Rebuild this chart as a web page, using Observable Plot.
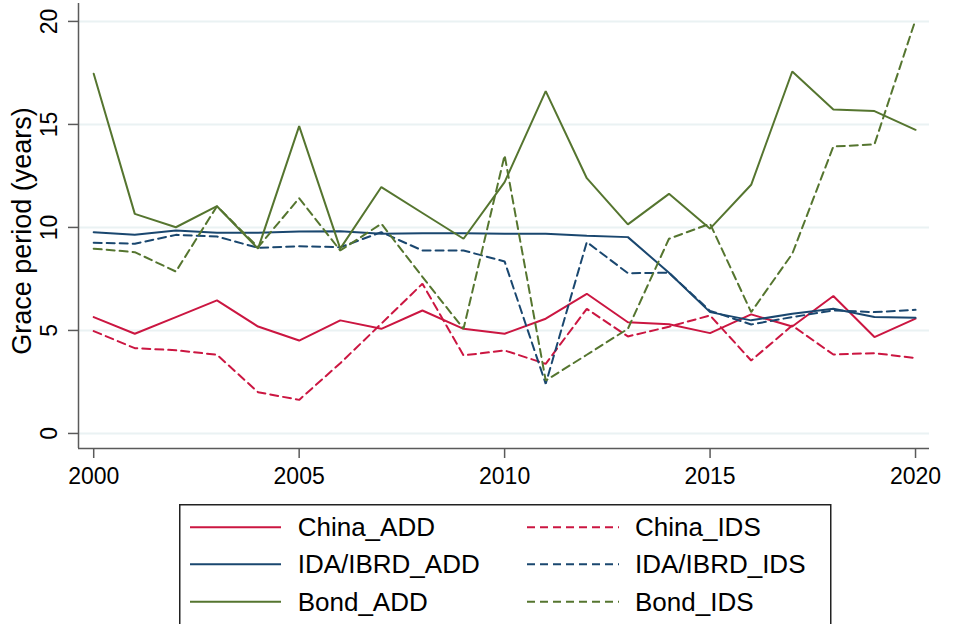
<!DOCTYPE html>
<html><head><meta charset="utf-8">
<script src="https://cdn.jsdelivr.net/npm/d3@7"></script>
<script src="https://cdn.jsdelivr.net/npm/@observablehq/plot@0.6"></script>
<style>
body{margin:0;background:#fff;font-family:"Liberation Sans",Arial,sans-serif;}
#wrap{position:relative;width:957px;height:624px;overflow:hidden;background:#fff;}
#wrap svg{display:block;}
#legend{position:absolute;left:179px;top:504px;}
</style></head><body><div id="wrap"></div>
<script>
const years = [2000,2001,2002,2003,2004,2005,2006,2007,2008,2009,2010,2011,2012,2013,2014,2015,2016,2017,2018,2019,2020];
const chinaADD = [5.65,4.84,5.65,6.46,5.19,4.51,5.49,5.08,5.97,5.08,4.84,5.57,6.78,5.40,5.30,4.87,5.78,5.19,6.67,4.68,5.57];
const chinaIDS = [4.97,4.14,4.04,3.82,2.00,1.63,3.41,5.33,7.27,3.79,4.03,3.38,6.05,4.71,5.18,5.73,3.54,5.24,3.83,3.90,3.66];
const idaADD   = [9.77,9.64,9.85,9.74,9.74,9.80,9.82,9.69,9.72,9.72,9.69,9.69,9.60,9.53,7.80,5.89,5.49,5.81,6.05,5.65,5.62];
const idaIDS   = [9.26,9.21,9.64,9.56,9.01,9.09,9.04,9.77,8.88,8.88,8.35,2.41,9.29,7.78,7.80,5.95,5.29,5.65,5.97,5.89,6.00];
const bondADD  = [17.46,10.66,10.01,11.03,8.97,14.92,8.97,11.96,10.70,9.45,12.20,16.62,12.39,10.15,11.63,9.94,12.07,17.57,15.73,15.65,14.74];
const bondIDS  = [8.97,8.80,7.86,11.03,9.04,11.42,8.88,10.18,7.60,5.08,13.50,2.57,3.82,5.08,9.45,10.18,5.89,8.72,13.93,14.03,20.08];

const seriesNames = ["China_ADD","China_IDS","IDA/IBRD_ADD","IDA/IBRD_IDS","Bond_ADD","Bond_IDS"];
const seriesValues = [chinaADD, chinaIDS, idaADD, idaIDS, bondADD, bondIDS];
const seriesColors = ["#CB1641","#CB1641","#1A476F","#1A476F","#55752F","#55752F"];
const seriesDashed = [false,true,false,true,false,true];
const xTicks = [2000,2005,2010,2015,2020];
const yTicks = [0,5,10,15,20];
const yLabel = "Grace period (years)";

const xDomain = [1999.63, 2020.34];
const yDomain = [-0.73, 20.87];
const font = '"Liberation Sans", Arial, sans-serif';

const lineMarks = seriesNames.map((name, i) => {
  const rows = years.map((yr, j) => ({year: yr, value: seriesValues[i][j]}));
  return Plot.line(rows, {
    x: "year", y: "value",
    stroke: seriesColors[i], strokeWidth: 2,
    strokeDasharray: seriesDashed[i] ? "8,5" : null,
    strokeLinejoin: "miter"
  });
});

const chart = Plot.plot({
  width: 957, height: 495,
  marginTop: 3, marginBottom: 47, marginLeft: 78, marginRight: 28,
  x: {domain: xDomain},
  y: {domain: yDomain},
  style: {fontFamily: font, background: "white", color: "#000"},
  marks: [
    Plot.gridY(yTicks, {stroke: "#EAF2F3", strokeOpacity: 1, strokeWidth: 2}),
    Plot.ruleX([xDomain[0]], {stroke: "#5a5a5a", strokeWidth: 1.5}),
    Plot.ruleY([yDomain[0]], {stroke: "#5a5a5a", strokeWidth: 1.5}),
    Plot.axisX(xTicks, {tickFormat: d => String(d), fontSize: 23, tickSize: 10, tickPadding: 9, stroke: "#5a5a5a", strokeWidth: 1.5, fill: "#000", label: null}),
    Plot.axisY(yTicks, {tickRotate: -90, fontSize: 23, tickSize: 10, tickPadding: 12, stroke: "#5a5a5a", strokeWidth: 1.5, fill: "#000", label: null}),
    ...lineMarks,
    Plot.text([yLabel], {text: d => d, frameAnchor: "left", textAnchor: "middle", rotate: -90, dx: -56, dy: 5, fontSize: 27, fill: "#000"})
  ]
});
document.getElementById("wrap").appendChild(chart);

// Legend below the plot
const lw = 651, lh = 140;
const legend = d3.select("#wrap").append("svg")
  .attr("id", "legend").attr("width", lw + 2).attr("height", lh)
  .style("font-family", font);
legend.append("rect").attr("x", 0.75).attr("y", 0.75).attr("width", lw).attr("height", lh + 20)
  .attr("fill", "white").attr("stroke", "#222").attr("stroke-width", 1.5);
const rowY = [23.3, 60.3, 97.7];
const colSwatch = [[11, 102], [348, 440]];
const colText = [118.7, 456];
seriesNames.forEach((name, i) => {
  const r = Math.floor(i / 2), c = i % 2;
  legend.append("line")
    .attr("x1", colSwatch[c][0]).attr("x2", colSwatch[c][1])
    .attr("y1", rowY[r]).attr("y2", rowY[r])
    .attr("stroke", seriesColors[i]).attr("stroke-width", 2)
    .attr("stroke-dasharray", seriesDashed[i] ? "8,5" : null);
  legend.append("text")
    .attr("x", colText[c]).attr("y", rowY[r])
    .attr("dominant-baseline", "central")
    .attr("font-size", 26).attr("fill", "#000")
    .text(name);
});
</script></body></html>
